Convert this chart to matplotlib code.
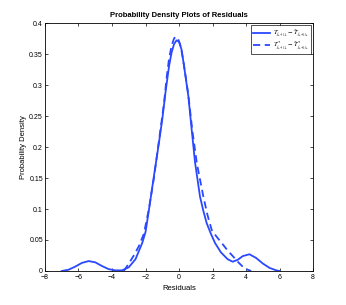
import matplotlib
matplotlib.use("Agg")
import matplotlib.pyplot as plt

solid_x = [-7.0, -6.6, -6.2, -5.8, -5.4, -5.0, -4.6, -4.2, -3.8, -3.4, -3.0, -2.6, -2.2, -2.0,
           -1.8, -1.6, -1.4, -1.2, -1.0, -0.8, -0.6, -0.45, -0.3, -0.15, 0.0, 0.15, 0.3, 0.55,
           0.75, 0.95, 1.25, 1.45, 1.65, 1.9, 2.15, 2.5, 2.9, 3.2, 3.5, 3.8, 4.2, 4.6, 5.0, 5.4,
           5.8, 6.0]
solid_y = [0.0, 0.002, 0.007, 0.013, 0.016, 0.014, 0.008, 0.003, 0.001, 0.001, 0.006, 0.019,
           0.045, 0.063, 0.098, 0.135, 0.171, 0.207, 0.245, 0.29, 0.33, 0.352, 0.366, 0.372,
           0.370, 0.357, 0.33, 0.283, 0.229, 0.176, 0.12, 0.097, 0.077, 0.06, 0.045, 0.03,
           0.019, 0.015, 0.018, 0.024, 0.027, 0.021, 0.012, 0.005, 0.001, 0.0]

dash_x = [-3.3, -3.0, -2.7, -2.4, -2.1, -1.8, -1.5, -1.2, -0.9, -0.75, -0.6, -0.45, -0.3,
          -0.2, -0.05, 0.1, 0.25, 0.55, 0.8, 1.06, 1.45, 1.7, 1.95, 2.25, 2.55, 2.9, 3.24, 3.5,
          3.8, 4.1, 4.3]
dash_y = [0.0, 0.012, 0.025, 0.04, 0.06, 0.1, 0.15, 0.21, 0.27, 0.31, 0.342, 0.363, 0.375,
          0.378, 0.374, 0.362, 0.34, 0.285, 0.225, 0.174, 0.12, 0.09, 0.066, 0.055, 0.045,
          0.033, 0.023, 0.015, 0.007, 0.002, 0.0]

labels = [r"$T_{j_{k+1|k}}-\hat{T}_{j_{k+1|k}}$", r"$T^{*}_{j_{k+1|k}}-\hat{T}^{*}_{j_{k+1|k}}$"]
xticks = [-8, -6, -4, -2, 0, 2, 4, 6, 8]
yticks = [0, 0.05, 0.1, 0.15, 0.2, 0.25, 0.3, 0.35, 0.4]
yticklabels = ["0", "0.05", "0.1", "0.15", "0.2", "0.25", "0.3", "0.35", "0.4"]

plt.rcParams['font.family'] = ['Liberation Sans', 'DejaVu Sans']
plt.rcParams['mathtext.fontset'] = 'stix'

fig = plt.figure(figsize=(3.46, 3.05), dpi=100)
ax = fig.add_axes([0.130, 0.1115, 0.775, 0.813])
color = '#2a48ff'
ax.plot(solid_x, solid_y, '-', color=color, lw=1.3, label=labels[0])
ax.plot(dash_x, dash_y, '--', color=color, lw=1.3, dashes=(4, 2.5), label=labels[1])
ax.set_xlim(-8, 8)
ax.set_ylim(0, 0.4)
ax.set_xticks(xticks)
ax.set_yticks(yticks)
ax.set_yticklabels(yticklabels)
ax.tick_params(direction='in', top=True, right=True, labelsize=5, length=2.5, width=0.5, pad=1.5)
ax.tick_params(axis='x', pad=2.5)
for s in ax.spines.values():
    s.set_linewidth(0.6)
ax.set_xlabel("Residuals", fontsize=5.5, labelpad=2.5)
ax.set_ylabel("Probability Density", fontsize=5.5, labelpad=1.5)
ax.set_title("Probability Density Plots of Residuals", fontsize=5.5, fontweight='bold', pad=4)
leg = ax.legend(loc='upper right', fontsize=4.8, frameon=True, fancybox=False, edgecolor='black',
                handlelength=2.6, borderaxespad=0.35, borderpad=0.3, labelspacing=0.15,
                handletextpad=0.4)
leg.get_frame().set_linewidth(0.6)
fig.savefig("out.png", dpi=100)
